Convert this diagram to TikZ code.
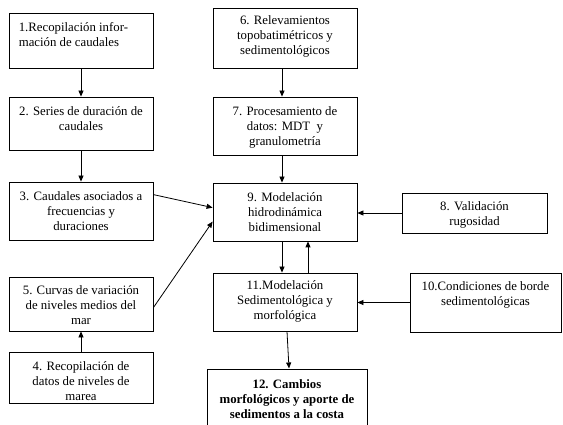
\documentclass[tikz,border=0pt]{standalone}
\usepackage{fontspec}
\setmainfont{Liberation Serif}
\usetikzlibrary{arrows.meta}
\begin{document}
\begin{tikzpicture}[x=1pt,y=-1pt,
  box/.style={draw, line width=0.8pt, inner sep=0pt},
  txt/.style={font=\fontsize{12.8}{15}\selectfont, align=center, inner sep=0pt, anchor=north},
  arr/.style={line width=0.8pt, -{Triangle[length=6pt,width=5pt]}}]
\useasboundingbox (0,0) rectangle (563,425);
\clip (0,0) rectangle (563,425);
% boxes
\node[box, minimum width=144pt, minimum height=55pt] (b1) at (81,40.5) {};
\node[box, minimum width=144pt, minimum height=53pt] (b2) at (81,123.5) {};
\node[box, minimum width=144pt, minimum height=58pt] (b3) at (81,211) {};
\node[box, minimum width=144pt, minimum height=54pt] (b5) at (81,304) {};
\node[box, minimum width=144pt, minimum height=51pt] (b4) at (81,377.5) {};
\node[box, minimum width=144pt, minimum height=60pt] (b6) at (285,38) {};
\node[box, minimum width=144pt, minimum height=58pt] (b7) at (285,126) {};
\node[box, minimum width=144pt, minimum height=58pt] (b9) at (285,212) {};
\node[box, minimum width=144pt, minimum height=58pt] (b11) at (285,302) {};
\node[box, line width=1pt, minimum width=160pt, minimum height=71pt] (b12) at (287,404.5) {};
\node[box, minimum width=145pt, minimum height=40pt] (b8) at (474.5,213) {};
\node[box, minimum width=151pt, minimum height=59pt] (b10) at (485.5,302.5) {};
% texts
\node[txt, anchor=north west, align=left] (t1) at ([xshift=10pt,yshift=-10pt]b1.north west) {1.Recopilación infor-\\mación de caudales};
\node[txt] (t2) at ([yshift=-10pt]b2.north) {2. Series de duración de\\caudales};
\node[txt] (t3) at ([yshift=-10pt]b3.north) {3. Caudales asociados a\\frecuencias y\\duraciones};
\node[txt] (t5) at ([yshift=-9pt]b5.north) {5. Curvas de variación\\de niveles medios del\\mar};
\node[txt] (t4) at ([yshift=-10pt]b4.north) {4. Recopilación de\\datos de niveles de\\marea};
\node[txt] (t6) at ([yshift=-8pt]b6.north) {6. Relevamientos\\topobatimétricos y\\sedimentológicos};
\node[txt] (t7) at ([yshift=-10pt]b7.north) {7. Procesamiento de\\datos: MDT\ \ y\\granulometría};
\node[txt] (t9) at ([yshift=-9.5pt]b9.north) {9. Modelación\\hidrodinámica\\bidimensional};
\node[txt] (t8) at ([yshift=-8.5pt]b8.north) {8. Validación\\rugosidad};
\node[txt] (t10) at ([yshift=-8.5pt]b10.north) {10.Condiciones de borde\\sedimentológicas};
\node[txt] (t11) at ([yshift=-8pt]b11.north) {11.Modelación\\Sedimentológica y\\morfológica};
\node[txt, font=\fontsize{12.8}{15}\selectfont\bfseries] (t12) at ([yshift=-11pt]b12.north) {12. Cambios\\morfológicos y aporte de\\sedimentos a la costa};
% connectors
\draw[arr] (b1.south) -- (b2.north);
\draw[arr] (b2.south) -- (b3.north);
\draw[arr] (b4.north) -- (b5.south);
\draw[arr] ([xshift=-3pt]b6.south) -- ([xshift=-3pt]b7.north);
\draw[arr] ([xshift=-3pt]b7.south) -- ([xshift=-3pt]b9.north);
\draw[arr] ([xshift=-3pt]b9.south) -- ([xshift=-3pt]b11.north);
\draw[arr] ([xshift=23pt]b11.north) -- ([xshift=23pt]b9.south);
\draw[arr] ([yshift=-13pt]b3.north east) -- ([yshift=-25pt]b9.north west);
\draw[arr] ([yshift=-31pt]b5.north east) -- ([yshift=-39pt]b9.north west);
\draw[arr] (b8.west) -- (b8.west -| b9.east);
\draw[arr] (b10.west) -- (b10.west -| b11.east);
\draw[arr] ([xshift=2pt]b11.south) -- ([xshift=2pt]b12.north);
\end{tikzpicture}
\end{document}
